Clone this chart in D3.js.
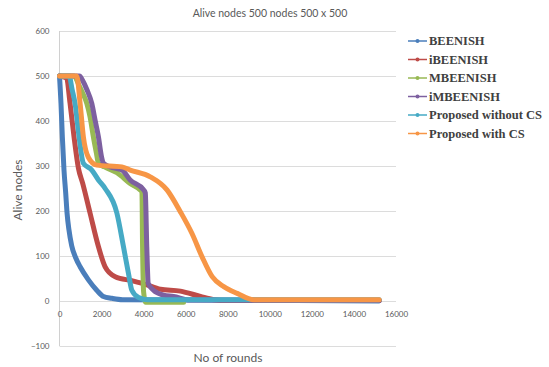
<!DOCTYPE html>
<html>
<head>
<meta charset="utf-8">
<script src="https://cdn.jsdelivr.net/npm/d3@7"></script>
<style>
  body { margin: 0; background: #fff; }
  .grid line { stroke: #dcdcdc; }
  .tick text { fill: #595959; font-family: Lato, "Open Sans", sans-serif; font-size: 8px; }
</style>
</head>
<body>
<div id="chart"></div>
<script>
// series: [round, alive nodes]
const beenish = [[0,500],[70,440],[135,365],[215,290],[295,240],[360,195],[450,158],[580,123],[780,95],[980,76],[1375,47],[1770,24],[2090,10],[2490,6],[3000,3],[15200,0]];
const ibeenish = [[0,500],[340,495],[500,440],[690,365],[900,295],[1100,262],[1455,195],[1850,121],[2170,76],[2650,54],[3440,45],[4080,37],[4800,26],[5750,22],[6700,10],[7330,3],[8000,1],[15200,1]];
const mbeenish = [[0,500],[700,500],[900,482],[1100,462],[1300,439],[1450,410],[1610,365],[1750,330],[1850,306],[2140,298],[2730,285],[3360,261],[3920,243],[3950,120],[4000,20],[4100,-3],[5900,-3]];
const imbeenish = [[0,500],[950,500],[1100,490],[1300,470],[1535,439],[1700,400],[1850,365],[2000,320],[2090,306],[2410,298],[2970,291],[3360,269],[4000,247],[4080,240],[4150,120],[4220,39],[4470,24],[4950,13],[5420,10],[6200,2],[15200,1]];
const propNoCS = [[0,500],[460,500],[600,470],[740,439],[930,365],[1135,306],[1535,291],[1850,269],[2170,250],[2730,195],[3040,121],[3280,61],[3440,24],[3760,8],[4200,3],[15200,3]];
const propCS = [[0,500],[820,500],[980,439],[1135,365],[1375,319],[1770,302],[2970,298],[3360,291],[4315,276],[5110,247],[5750,198],[6300,150],[6780,98],[7260,54],[7810,32],[8450,17],[9240,3],[15200,3]];

const seriesNames = ["BEENISH", "iBEENISH", "MBEENISH", "iMBEENISH", "Proposed without CS", "Proposed with CS"];
const seriesData = [beenish, ibeenish, mbeenish, imbeenish, propNoCS, propCS];
const colors = ["#4a7ebb", "#be4b48", "#98b954", "#7d60a0", "#46aac5", "#f79646"];

const xTicks = [0, 2000, 4000, 6000, 8000, 10000, 12000, 14000, 16000];
const yTicks = [-100, 0, 100, 200, 300, 400, 500, 600];

const W = 549, H = 367;
const svg = d3.select("#chart").append("svg")
    .attr("width", W)
    .attr("height", H);

const x = d3.scaleLinear().domain([0, 16000]).range([59.5, 396]);
const y = d3.scaleLinear().domain([-100, 600]).range([346, 31]);

// gridlines
svg.append("g")
    .attr("class", "grid")
    .selectAll("line")
    .data(yTicks)
    .enter().append("line")
    .attr("x1", x(0)).attr("x2", x(16000))
    .attr("y1", d => Math.round(y(d)) + 0.5)
    .attr("y2", d => Math.round(y(d)) + 0.5);

// y axis line
svg.append("line")
    .attr("x1", x(0)).attr("x2", x(0))
    .attr("y1", y(600)).attr("y2", y(-100))
    .attr("stroke", "#d0d0d0");

// y axis labels
const yAxis = svg.append("g")
    .attr("transform", `translate(${x(0) - 4},0)`)
    .call(d3.axisLeft(y).tickValues(yTicks).tickSize(0).tickPadding(6));
yAxis.select(".domain").remove();

// x axis labels, sitting under the zero line
const xAxis = svg.append("g")
    .attr("transform", `translate(0,${y(0) + 5})`)
    .call(d3.axisBottom(x).tickValues(xTicks).tickFormat(d3.format("d")).tickSize(0).tickPadding(5));
xAxis.select(".domain").remove();

// lines
const line = d3.line()
    .curve(d3.curveMonotoneX)
    .x(d => x(d[0]))
    .y(d => y(d[1]));

svg.append("g")
    .selectAll("path")
    .data(seriesData)
    .enter().append("path")
    .attr("d", line)
    .attr("fill", "none")
    .attr("stroke", (d, i) => colors[i])
    .attr("stroke-width", 5)
    .attr("stroke-linejoin", "round")
    .attr("stroke-linecap", "round");

// title
svg.append("text")
    .attr("x", 270).attr("y", 17)
    .attr("text-anchor", "middle")
    .attr("fill", "#595959")
    .style("font-family", "Lato, 'Open Sans', sans-serif")
    .style("font-size", "10.5px")
    .text("Alive nodes 500 nodes 500 x 500");

// axis titles
svg.append("text")
    .attr("transform", `translate(22,190) rotate(-90)`)
    .attr("text-anchor", "middle")
    .attr("fill", "#595959")
    .style("font-family", "Lato, 'Open Sans', sans-serif")
    .style("font-size", "12px")
    .text("Alive nodes");

svg.append("text")
    .attr("x", 228).attr("y", 362)
    .attr("text-anchor", "middle")
    .attr("fill", "#595959")
    .style("font-family", "Lato, 'Open Sans', sans-serif")
    .style("font-size", "12px")
    .text("No of rounds");

// legend
const legend = svg.append("g")
    .selectAll("g")
    .data(seriesNames)
    .enter().append("g")
    .attr("transform", (d, i) => `translate(408,${41 + i * 18.5})`);

legend.append("line")
    .attr("x1", 0).attr("x2", 19)
    .attr("stroke", (d, i) => colors[i])
    .attr("stroke-width", 1.5);

legend.append("circle")
    .attr("cx", 9.5).attr("r", 2)
    .attr("fill", (d, i) => colors[i]);

legend.append("text")
    .attr("x", 21).attr("y", 4)
    .attr("fill", "#404040")
    .style("font-family", "'Liberation Serif', serif")
    .style("font-weight", "bold")
    .style("font-size", "12.5px")
    .text(d => d);
</script>
</body>
</html>
